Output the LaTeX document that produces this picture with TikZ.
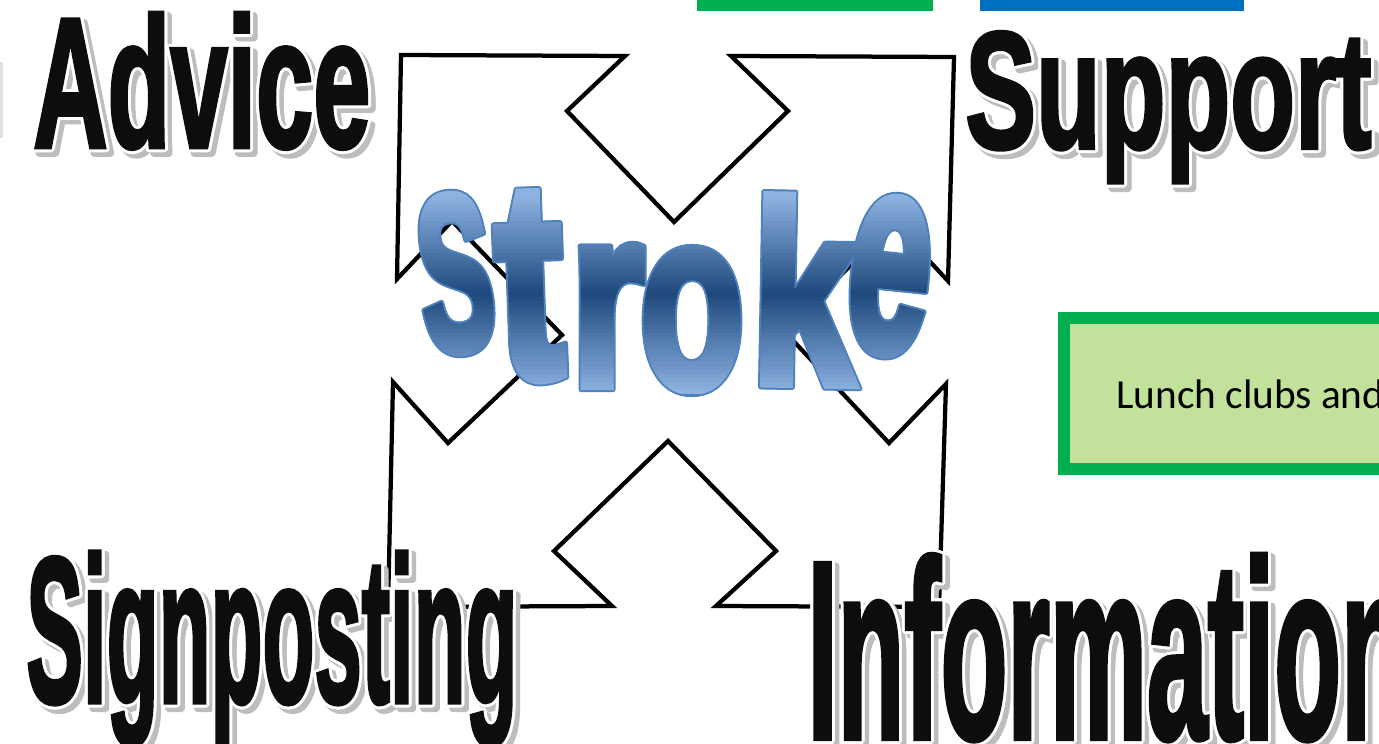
\documentclass[tikz,border=0pt]{standalone}
\usepackage{fontspec}
\usepackage{graphicx}
\newfontfamily\wordfont{Liberation Sans}[BoldFeatures={FakeBold=2.5}]
\newfontfamily\letterfont{Liberation Sans}[BoldFeatures={FakeBold=4}]
\newfontfamily\boxfont{Carlito}
\usetikzlibrary{shadows}
\definecolor{strokelight}{HTML}{8DB3E2}
\definecolor{strokedark}{HTML}{1F497D}
\definecolor{strokeedge}{HTML}{4F81BD}
\definecolor{wordgray}{HTML}{BDBDBD}
\definecolor{boxgreen}{HTML}{00B050}
\definecolor{boxblue}{HTML}{0070C0}
\definecolor{lunchfill}{HTML}{C2E29B}
\tikzset{
  wordshadow/.style={inner sep=0, anchor=base west, text=wordgray, font=\wordfont\bfseries},
  wordring/.style={inner sep=0, anchor=base west, text=white, font=\wordfont\bfseries},
  wordfill/.style={inner sep=0, anchor=base west, text=black!95, font=\wordfont\bfseries},
  strokeletter/.style={inner sep=0, font=\letterfont\bfseries},
  arrowline/.style={line width=0.085cm, line join=miter},
  colbox/.style={draw=#1, line width=0.24cm, fill=white, inner sep=0,
    drop shadow={shadow xshift=0.06cm, shadow yshift=-0.08cm, opacity=0.3}}
}
\newcommand{\bigword}[6]% name, x, baseline y, width, height, word
{\foreach \a in {0,30,...,330}
   \node[wordshadow] at ([shift={(\a:0.06)}] #2+0.09,#3-0.09) {\resizebox{#4cm}{#5cm}{#6}};
 \foreach \a in {0,30,...,330}
   \node[wordring] at ([shift={(\a:0.06)}] #2,#3) {\resizebox{#4cm}{#5cm}{#6}};
 \node[wordfill] (#1) at (#2,#3) {\resizebox{#4cm}{#5cm}{#6}};
}
\newcommand{\strokeword}[1]% style of the letters
{\node[strokeletter,#1,rotate=6] (sS) at (9.11,9.39) {\resizebox*{1.45cm}{3.14cm}{S}};
 \node[strokeletter,#1,rotate=2] (sT) at (10.59,9.13) {\resizebox*{1.32cm}{3.70cm}{t}};
 \node[strokeletter,#1] (sR) at (12.15,8.53) {\resizebox*{1.45cm}{2.74cm}{r}};
 \node[strokeletter,#1] (sO) at (13.84,8.45) {\resizebox*{2.06cm}{2.78cm}{o}};
 \node[strokeletter,#1,rotate=-1] (sK) at (16.08,9.06) {\resizebox*{2.06cm}{3.72cm}{k}};
 \node[strokeletter,#1,rotate=-6] (sE) at (17.79,9.34) {\resizebox*{1.62cm}{3.08cm}{e}};
}

\begin{document}
\begin{tikzpicture}
	\useasboundingbox (0,0) rectangle (27.58,14.86);
	\fill[black!12] (0,12.10) rectangle (0.06,13.62);
	% boxes
	\node[colbox=boxgreen, minimum width=4.49cm, minimum height=1.74cm] (topgreen) at (16.30,15.63) {};
	\node[colbox=boxblue, minimum width=5.05cm, minimum height=1.74cm] (topblue) at (22.24,15.63) {};
	\node[colbox=boxblue!60, minimum width=3.47cm, minimum height=1.50cm] (topthird) at (27.27,15.75) {};
	\node[colbox=boxgreen, fill=lunchfill, minimum width=8.72cm, minimum height=3.02cm] (lunch) at (25.64,6.99) {};
	\node[anchor=base west, inner sep=0, font=\boxfont\fontsize{23.5}{28}\selectfont] (lunchtext) at (22.32,6.70) {Lunch clubs and};
	% arrows
	\draw[arrowline] (8.02,13.76) -- (12.50,13.74) -- (11.34,12.64) -- (13.48,10.42) -- (15.76,12.64) -- (14.62,13.74) -- (19.08,13.72)
		-- (18.96,9.24) -- (17.86,10.42) -- (15.70,8.22) -- (17.78,6.00) -- (18.92,7.18) -- (18.78,2.72)
		-- (14.32,2.74) -- (15.52,3.84) -- (13.36,6.04) -- (11.08,3.84) -- (12.24,2.74) -- (7.76,2.72)
		-- (7.86,7.22) -- (8.96,6.00) -- (11.24,8.16) -- (9.04,10.44) -- (7.94,9.28) -- cycle;
	% stroke
	\foreach \a in {0,45,...,315}
	{\begin{scope}[shift={(\a:0.04)}]
		\strokeword{text=strokeedge}
	\end{scope}}
	\foreach \i in {0,...,51}
	{\pgfmathsetmacro{\yb}{7.0+0.08*\i}
	 \pgfmathtruncatemacro{\p}{min(100,abs(\yb+0.04-8.98)/1.95*100)}
	 \begin{scope}
		\clip (8.2,\yb) rectangle (19.2,\yb+0.082);
		\strokeword{text=strokelight!\p!strokedark}
	\end{scope}}
	% words
	\bigword{advice}{0.66}{11.92}{6.74}{2.68}{Advice}
	\bigword{support}{19.30}{11.90}{8.12}{2.32}{Support}
	\bigword{signposting}{0.52}{0.82}{9.82}{3.00}{Signposting}
	\bigword{information}{16.14}{0.10}{12.00}{3.66}{Information}
\end{tikzpicture}
\end{document}
